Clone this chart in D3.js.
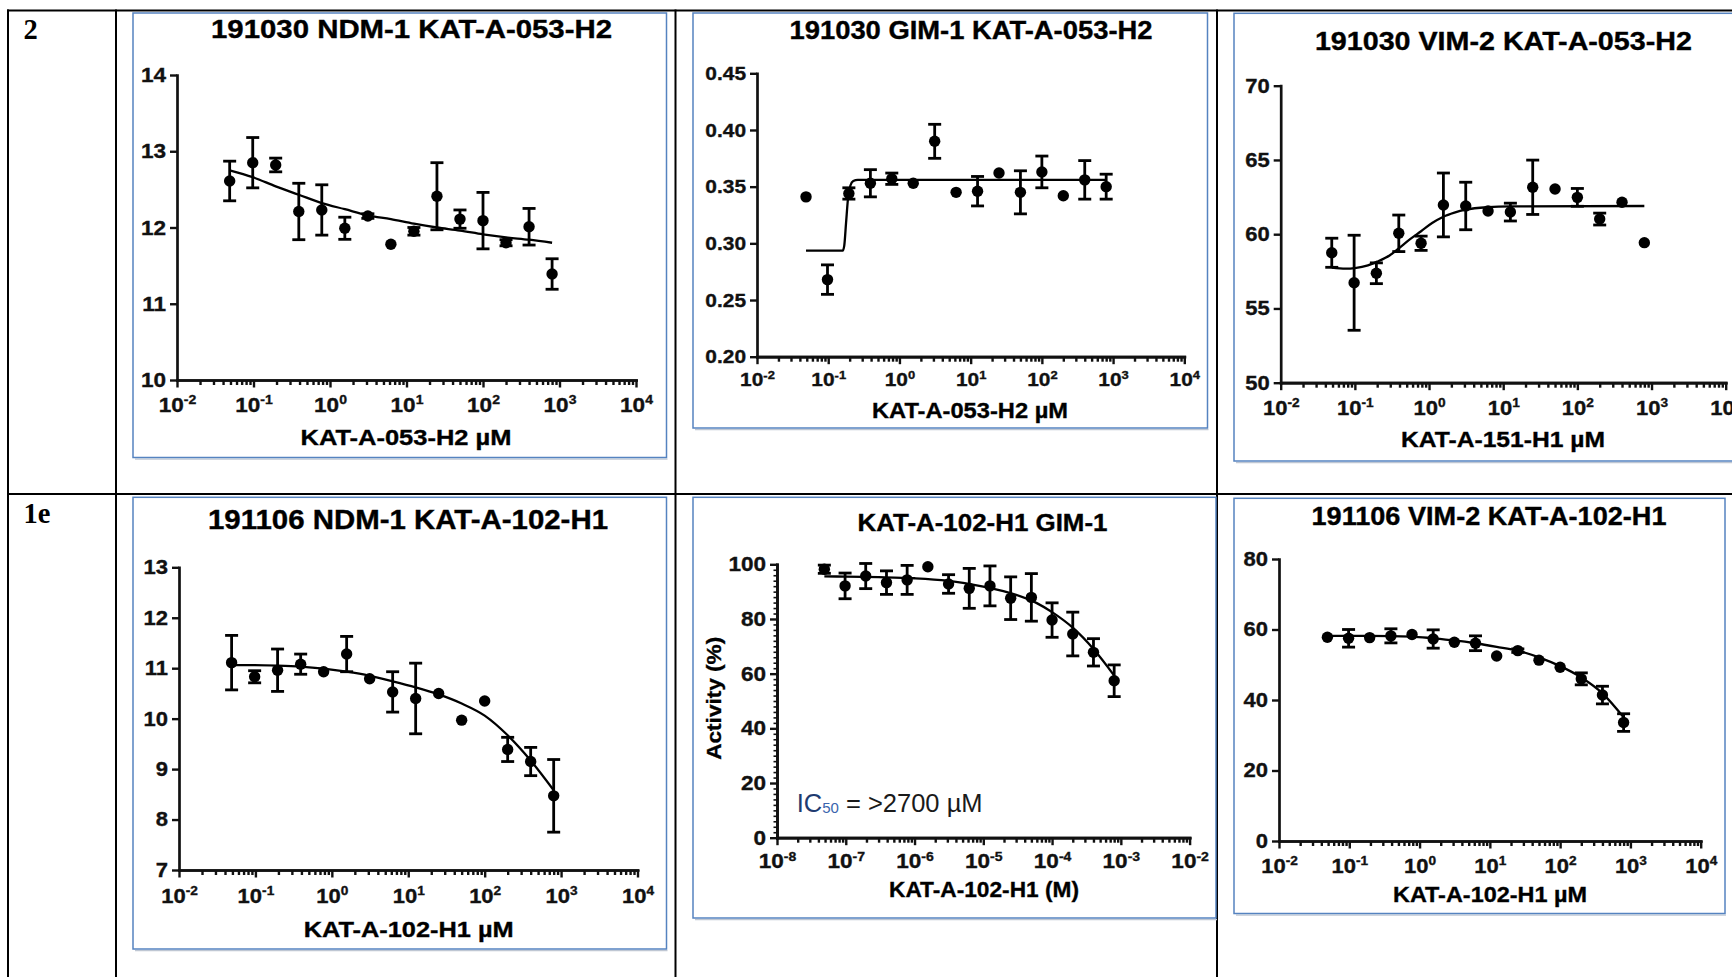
<!DOCTYPE html>
<html>
<head>
<meta charset="utf-8">
<script src="https://cdn.jsdelivr.net/npm/d3@7"></script>
<style>
  html, body { margin: 0; padding: 0; background: #fff; }
  svg { display: block; }
  text { font-family: "Liberation Sans", Arial, sans-serif; }
</style>
</head>
<body>
<svg id="fig" width="1732" height="977"></svg>
<script>
// ---- Concentrations (two-fold dilution series) ----
const concUM = [0.0488, 0.0977, 0.195, 0.391, 0.781, 1.5625, 3.125, 6.25, 12.5, 25, 50, 100, 200, 400, 800];
const concM  = [4.88e-8, 9.77e-8, 1.95e-7, 3.91e-7, 7.81e-7, 1.5625e-6, 3.125e-6, 6.25e-6, 1.25e-5, 2.5e-5, 5e-5, 1e-4, 2e-4, 4e-4, 8e-4];

// ---- 191030 NDM-1 KAT-A-053-H2 ----
const ndm053Mean = [12.61, 12.85, 12.82, 12.21, 12.23, 11.99, 12.15, 11.78, 11.95, 12.41, 12.11, 12.09, 11.80, 12.01, 11.39];
const ndm053Err  = [0.26, 0.33, 0.09, 0.37, 0.33, 0.145, 0.03, 0, 0.05, 0.44, 0.12, 0.37, 0.04, 0.24, 0.20];
const ndm053FitConc = [0.0488, 0.0977, 0.195, 0.391, 0.781, 1.5625, 3.125, 6.25, 12.5, 25, 50, 100, 200, 400, 800];
const ndm053FitVal  = [12.75, 12.66, 12.54, 12.43, 12.32, 12.24, 12.16, 12.11, 12.05, 12.00, 11.96, 11.91, 11.87, 11.84, 11.80];

// ---- 191030 GIM-1 KAT-A-053-H2 ----
const gim053Mean = [0.341, 0.268, 0.344, 0.353, 0.357, 0.353, 0.390, 0.345, 0.346, 0.362, 0.345, 0.363, 0.342, 0.356, 0.350];
const gim053Err  = [0, 0.013, 0.005, 0.012, 0.005, 0, 0.015, 0, 0.013, 0, 0.019, 0.014, 0, 0.017, 0.011];
const gim053FitConc = [0.0488, 0.160, 0.168, 0.178, 0.190, 0.205, 0.225, 0.26, 800];
const gim053FitVal  = [0.2935, 0.2935, 0.298, 0.318, 0.340, 0.351, 0.355, 0.356, 0.356];

// ---- 191030 VIM-2 KAT-A-053-H2 ----
const vim053Mean = [58.75, 56.73, 57.37, 60.06, 59.39, 61.97, 61.90, 61.56, 61.49, 63.16, 63.04, 62.48, 61.02, 62.15, 59.43];
const vim053Err  = [0.98, 3.2, 0.7, 1.23, 0.48, 2.15, 1.6, 0, 0.6, 1.83, 0, 0.6, 0.4, 0, 0];
const vim053FitConc = [0.0488, 0.075, 0.1, 0.15, 0.2, 0.3, 0.391, 0.55, 0.781, 1.1, 1.5625, 2.2, 3.125, 6.25, 12.5, 800];
const vim053FitVal  = [57.75, 57.68, 57.72, 57.9, 58.15, 58.6, 59.05, 59.65, 60.2, 60.75, 61.18, 61.45, 61.65, 61.82, 61.87, 61.9];

// ---- 191106 NDM-1 KAT-A-102-H1 ----
const ndm102Mean = [11.11, 10.83, 10.96, 11.08, 10.93, 11.28, 10.79, 10.53, 10.40, 10.50, 9.97, 10.35, 9.39, 9.15, 8.47];
const ndm102Err  = [0.54, 0.12, 0.42, 0.20, 0, 0.35, 0, 0.40, 0.70, 0, 0, 0, 0.24, 0.28, 0.72];
const ndm102FitConc = [0.0488, 0.0977, 0.195, 0.391, 0.781, 1.5625, 3.125, 6.25, 12.5, 25, 50, 100, 200, 400, 800];
const ndm102FitVal  = [11.06, 11.06, 11.05, 11.03, 10.99, 10.93, 10.85, 10.74, 10.62, 10.48, 10.30, 10.06, 9.67, 9.17, 8.58];

// ---- KAT-A-102-H1 GIM-1 (activity, %) ----
const gim102Mean = [98.2, 92.1, 95.7, 93.3, 94.3, 99.1, 92.8, 91.2, 92.1, 87.6, 87.9, 79.6, 74.5, 67.8, 57.4];
const gim102Err  = [1.5, 4.7, 4.6, 4.3, 5.3, 0, 3.4, 7.3, 7.3, 7.8, 8.7, 6.3, 8.0, 5.0, 5.8];
const gim102FitConc = [4.88e-8, 1e-7, 3e-7, 1e-6, 3e-6, 1e-5, 3e-5, 6e-5, 1e-4, 2e-4, 4e-4, 8e-4];
const gim102FitVal  = [95.6, 95.5, 95.3, 94.9, 94.0, 91.8, 88.8, 85.8, 82.5, 76.8, 69.0, 59.3];

// ---- 191106 VIM-2 KAT-A-102-H1 ----
const vim102Mean = [57.8, 57.5, 57.7, 58.2, 58.6, 57.3, 56.4, 56.1, 52.5, 54.0, 51.3, 49.3, 46.0, 41.4, 33.6];
const vim102Err  = [0, 2.5, 0, 2.0, 0, 2.6, 0, 2.1, 0, 0.5, 0, 0, 1.7, 2.5, 2.5];
const vim102FitConc = [0.0488, 0.195, 0.781, 1.5625, 3.125, 6.25, 12.5, 25, 50, 100, 200, 400, 800];
const vim102FitVal  = [58.2, 58.2, 58.0, 57.5, 56.9, 56.1, 55.1, 54.0, 52.1, 49.6, 46.4, 41.9, 35.1];

// ---- Axis tick values ----
const ticksNdm053 = [10, 11, 12, 13, 14];
const ticksGim053 = [0.20, 0.25, 0.30, 0.35, 0.40, 0.45];
const ticksVim053 = [50, 55, 60, 65, 70];
const ticksNdm102 = [7, 8, 9, 10, 11, 12, 13];
const ticksGim102 = [0, 20, 40, 60, 80, 100];
const ticksVim102 = [0, 20, 40, 60, 80];

// ---- Row labels ----
const rowLabels = ["2", "1e"];

// ---- Panel layout ----
const panels = [
  { box: [133, 13, 666.5, 457.5],
    title: "191030 NDM-1 KAT-A-053-H2", titleX: 411.5, titleY: 38, titleLen: 401, titleSize: 26,
    x0: 177, x1: 636, yTop: 75, yBottom: 380,
    xDomain: [1e-2, 1e4], yDomain: [10, 14], yTicks: ticksNdm053, yFmt: d3.format("d"),
    xLabel: "KAT-A-053-H2 \u00b5M", xLabelX: 406, xLabelY: 445, xLabelLen: 211,
    labelOff: 31.7, tickFont: 20.5,
    conc: concUM, mean: ndm053Mean, err: ndm053Err, fitC: ndm053FitConc, fitV: ndm053FitVal },
  { box: [693, 13, 1207.5, 428],
    title: "191030 GIM-1 KAT-A-053-H2", titleX: 971, titleY: 39.3, titleLen: 363, titleSize: 26,
    x0: 757, x1: 1184.3, yTop: 73.3, yBottom: 356.7,
    xDomain: [1e-2, 1e4], yDomain: [0.20, 0.45], yTicks: ticksGim053, yFmt: d3.format(".2f"),
    xLabel: "KAT-A-053-H2 \u00b5M", xLabelX: 970, xLabelY: 418, xLabelLen: 196,
    labelOff: 29.5, tickFont: 19,
    conc: concUM, mean: gim053Mean, err: gim053Err, fitC: gim053FitConc, fitV: gim053FitVal },
  { box: [1234, 13.3, 1745, 461],
    title: "191030 VIM-2 KAT-A-053-H2", titleX: 1503.4, titleY: 50, titleLen: 377, titleSize: 26,
    x0: 1280.7, x1: 1725.7, yTop: 85.7, yBottom: 382.7,
    xDomain: [1e-2, 1e4], yDomain: [50, 70], yTicks: ticksVim053, yFmt: d3.format("d"),
    xLabel: "KAT-A-151-H1 \u00b5M", xLabelX: 1503, xLabelY: 446.7, xLabelLen: 204,
    labelOff: 32, tickFont: 20,
    conc: concUM, mean: vim053Mean, err: vim053Err, fitC: vim053FitConc, fitV: vim053FitVal },
  { box: [133, 497.3, 666.5, 949],
    title: "191106 NDM-1 KAT-A-102-H1", titleX: 408, titleY: 529.3, titleLen: 400, titleSize: 27,
    x0: 179, x1: 637.5, yTop: 567.3, yBottom: 870,
    xDomain: [1e-2, 1e4], yDomain: [7, 13], yTicks: ticksNdm102, yFmt: d3.format("d"),
    xLabel: "KAT-A-102-H1 \u00b5M", xLabelX: 408.7, xLabelY: 936.7, xLabelLen: 210,
    labelOff: 33, tickFont: 20,
    conc: concUM, mean: ndm102Mean, err: ndm102Err, fitC: ndm102FitConc, fitV: ndm102FitVal },
  { box: [693, 497.3, 1216, 918],
    title: "KAT-A-102-H1 GIM-1", titleX: 982.5, titleY: 530.7, titleLen: 250, titleSize: 24,
    x0: 777, x1: 1189.6, yTop: 564.3, yBottom: 837.7,
    xDomain: [1e-8, 1e-2], yDomain: [0, 100], yTicks: ticksGim102, yFmt: d3.format("d"), yMinorStep: 2,
    xLabel: "KAT-A-102-H1 (M)", xLabelX: 984, xLabelY: 896.7, xLabelLen: 190,
    labelOff: 30.6, tickFont: 20.5,
    yTitle: "Activity (%)", yTitleX: 721, yTitleY: 698.3, yTitleLen: 123,
    conc: concM, mean: gim102Mean, err: gim102Err, fitC: gim102FitConc, fitV: gim102FitVal },
  { box: [1234, 498.3, 1725, 913.5],
    title: "191106 VIM-2 KAT-A-102-H1", titleX: 1489, titleY: 525, titleLen: 355, titleSize: 26,
    x0: 1279, x1: 1700.7, yTop: 559, yBottom: 841,
    xDomain: [1e-2, 1e4], yDomain: [0, 80], yTicks: ticksVim102, yFmt: d3.format("d"),
    xLabel: "KAT-A-102-H1 \u00b5M", xLabelX: 1490, xLabelY: 901.7, xLabelLen: 194,
    labelOff: 32, tickFont: 20,
    conc: concUM, mean: vim102Mean, err: vim102Err, fitC: vim102FitConc, fitV: vim102FitVal }
];

const svg = d3.select("#fig");
const INK = "#111";

// ---- Table grid ----
const grid = svg.append("g").attr("stroke", "#000").attr("stroke-width", 2);
[[7, 10.5, 1732, 10.5], [7, 494, 1732, 494],
 [8, 9.5, 8, 977], [116, 9.5, 116, 977], [675.5, 9.5, 675.5, 977], [1217, 9.5, 1217, 977]]
  .forEach(([a, b, c, d]) => grid.append("line").attr("x1", a).attr("y1", b).attr("x2", c).attr("y2", d));

svg.selectAll("text.rowlabel").data(rowLabels).join("text")
  .attr("class", "rowlabel")
  .attr("x", 23.5)
  .attr("y", (d, i) => i === 0 ? 39.3 : 523.3)
  .style("font-family", "'Liberation Serif', 'Times New Roman', serif")
  .attr("font-weight", "bold").attr("font-size", 28.5).attr("fill", "#000")
  .text(d => d);

function styleAxis(sel) {
  sel.attr("font-family", null).attr("font-size", null);
  sel.select(".domain").attr("stroke", INK).attr("stroke-width", 2.7).attr("stroke-linecap", "square");
  sel.selectAll(".tick line").attr("stroke", INK).attr("stroke-width", 2.4);
}

function heavy(sel, w) {
  sel.attr("stroke", "#111").attr("stroke-width", w).attr("paint-order", "stroke");
}

function drawPanel(p) {
  const g = svg.append("g");

  // Outline frame of the pasted graph
  g.append("line")
    .attr("x1", p.box[0] + 2).attr("x2", p.box[2] + 1)
    .attr("y1", p.box[3] + 1.6).attr("y2", p.box[3] + 1.6)
    .attr("stroke", "#bfc7d3").attr("stroke-width", 1.3);
  g.append("rect")
    .attr("x", p.box[0]).attr("y", p.box[1])
    .attr("width", p.box[2] - p.box[0]).attr("height", p.box[3] - p.box[1])
    .attr("fill", "none").attr("stroke", "#5583c0").attr("stroke-width", 1.5);

  const x = d3.scaleLog().domain(p.xDomain).range([p.x0, p.x1]);
  const y = d3.scaleLinear().domain(p.yDomain).range([p.yBottom, p.yTop]);

  const lo = Math.round(Math.log10(p.xDomain[0]));
  const hi = Math.round(Math.log10(p.xDomain[1]));
  const majors = d3.range(lo, hi + 1).map(e => Math.pow(10, e));
  const minors = [];
  d3.range(lo, hi).forEach(e => { for (let m = 2; m <= 9; m++) minors.push(m * Math.pow(10, e)); });

  // x axis: minor ticks, then decades with power-of-ten labels
  g.append("g").attr("transform", `translate(0,${p.yBottom})`)
    .call(d3.axisBottom(x).tickValues(minors).tickSize(5).tickSizeOuter(0).tickFormat(() => ""))
    .call(styleAxis);
  const xAx = g.append("g").attr("transform", `translate(0,${p.yBottom})`)
    .call(d3.axisBottom(x).tickValues(majors).tickSize(7.5).tickSizeOuter(0).tickFormat(() => ""))
    .call(styleAxis);
  xAx.selectAll(".tick text").each(function(d) {
    const t = d3.select(this);
    t.attr("y", p.labelOff).attr("dy", null).attr("fill", INK)
      .attr("font-weight", "bold").attr("font-size", p.tickFont)
      .attr("text-anchor", "middle").attr("transform", "scale(1.1,1)");
    heavy(t, 0.35);
    t.append("tspan").text("10");
    t.append("tspan").attr("dy", -7.5).attr("font-size", p.tickFont * 0.62)
      .text(String(Math.round(Math.log10(d))));
  });

  // y axis
  if (p.yMinorStep) {
    const minorY = d3.range(p.yDomain[0], p.yDomain[1] + 1e-9, p.yMinorStep)
      .filter(v => !p.yTicks.some(t => Math.abs(t - v) < 1e-9));
    g.append("g").attr("transform", `translate(${p.x0},0)`)
      .call(d3.axisLeft(y).tickValues(minorY).tickSize(3.5).tickSizeOuter(0).tickFormat(() => ""))
      .call(styleAxis)
      .selectAll(".tick line").attr("stroke-width", 1.6);
  }
  g.append("g").attr("transform", `translate(${p.x0},0)`)
    .call(d3.axisLeft(y).tickValues(p.yTicks).tickSize(7).tickPadding(3).tickSizeOuter(0).tickFormat(p.yFmt))
    .call(styleAxis)
    .selectAll(".tick text")
      .attr("fill", INK).attr("font-weight", "bold").attr("font-size", p.tickFont)
      .attr("transform", "scale(1.1,1)")
      .call(heavy, 0.35);

  // Titles
  g.append("text")
    .attr("x", p.titleX).attr("y", p.titleY).attr("text-anchor", "middle")
    .attr("font-weight", "bold").attr("font-size", p.titleSize).attr("fill", "#000")
    .attr("textLength", p.titleLen).attr("lengthAdjust", "spacingAndGlyphs")
    .call(heavy, 0.4)
    .text(p.title);
  g.append("text")
    .attr("x", p.xLabelX).attr("y", p.xLabelY).attr("text-anchor", "middle")
    .attr("font-weight", "bold").attr("font-size", 21.5).attr("fill", "#000")
    .attr("textLength", p.xLabelLen).attr("lengthAdjust", "spacingAndGlyphs")
    .call(heavy, 0.35)
    .text(p.xLabel);
  if (p.yTitle) {
    g.append("text")
      .attr("transform", `translate(${p.yTitleX},${p.yTitleY}) rotate(-90)`)
      .attr("text-anchor", "middle")
      .attr("font-weight", "bold").attr("font-size", 20.5).attr("fill", "#000")
      .attr("textLength", p.yTitleLen).attr("lengthAdjust", "spacingAndGlyphs")
      .call(heavy, 0.35)
      .text(p.yTitle);
  }

  // Fitted curve
  g.append("path")
    .datum(d3.zip(p.fitC, p.fitV))
    .attr("d", d3.line().x(d => x(d[0])).y(d => y(d[1])).curve(d3.curveMonotoneX))
    .attr("fill", "none").attr("stroke", "#000").attr("stroke-width", 2.3);

  // Error bars (mean ± error)
  const pts = p.conc.map((c, i) => ({ c, m: p.mean[i], e: p.err[i] }));
  const eb = g.append("g").attr("stroke", "#000").attr("stroke-width", 2.8);
  pts.filter(d => d.e > 0).forEach(d => {
    const cx = x(d.c), yLo = y(d.m - d.e), yHi = y(d.m + d.e);
    eb.append("line").attr("x1", cx).attr("x2", cx).attr("y1", yLo).attr("y2", yHi);
    eb.append("line").attr("x1", cx - 6.5).attr("x2", cx + 6.5).attr("y1", yLo).attr("y2", yLo);
    eb.append("line").attr("x1", cx - 6.5).attr("x2", cx + 6.5).attr("y1", yHi).attr("y2", yHi);
  });

  // Points
  g.append("g").selectAll("circle").data(pts).join("circle")
    .attr("cx", d => x(d.c)).attr("cy", d => y(d.m)).attr("r", 5.7).attr("fill", "#000");

  return { x, y, g };
}

const drawn = panels.map(drawPanel);

// IC50 annotation in the GIM-1 activity panel
const ic = drawn[4].g.append("text").attr("x", 796.7).attr("y", 811.7).attr("font-size", 25.5);
ic.append("tspan").attr("fill", "#1f3b70").text("IC");
ic.append("tspan").attr("fill", "#3a64ad").attr("font-size", 15).attr("dy", 1.6).text("50");
ic.append("tspan").attr("fill", "#1a1a1a").attr("dy", -1.6).text(" = >2700 \u00b5M");
</script>
</body>
</html>
